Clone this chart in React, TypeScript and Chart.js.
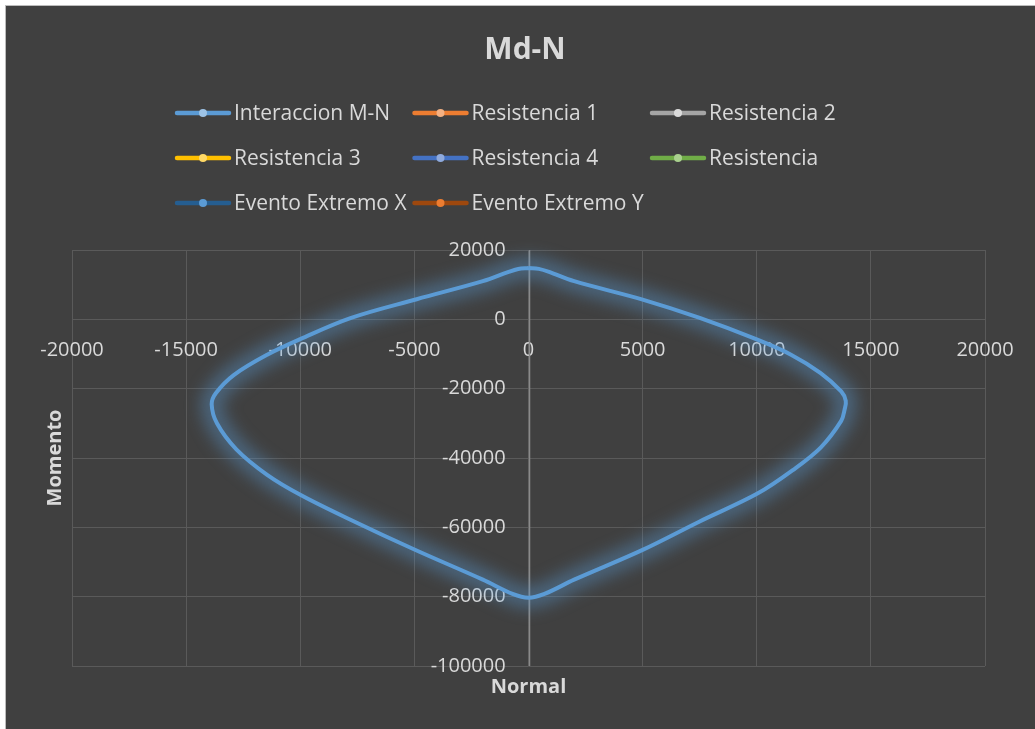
import React, { useEffect, useRef } from "react";
import { Chart, registerables } from "chart.js";

Chart.register(...registerables);

// ---- Data ----
const seriesLabels = [
  "Interaccion M-N",
  "Resistencia 1",
  "Resistencia 2",
  "Resistencia 3",
  "Resistencia 4",
  "Resistencia",
  "Evento Extremo X",
  "Evento Extremo Y",
];
const seriesColors = ["#5B9BD5", "#ED7D31", "#A5A5A5", "#FFC000", "#4472C4", "#70AD47", "#255E91", "#9E480E"];
const markerColors = ["#9DC3E6", "#F4B183", "#DBDBDB", "#FFD966", "#8FAADC", "#A9D18E", "#5B9BD5", "#ED7D31"];

// Interaction diagram: Normal (x) and Momento (y)
const normalN = [
  0, 450, 900, 2000, 5000, 7500, 10000, 11500, 12800, 13700, 13900, 13850, 13700, 12800, 11600, 10050, 7500, 5000,
  2000, 700, 0, -700, -2000, -5000, -7800, -10000, -11450, -12800, -13650, -13880, -13700, -12900, -11450, -10000,
  -7800, -4900, -2000, -900, -450, 0,
];
const momentoM = [
  14800, 14550, 13700, 11000, 5700, 400, -5800, -10200, -15500, -20800, -23500, -26000, -29300, -37000, -43400,
  -50200, -58300, -66500, -75100, -79200, -80300, -79200, -75100, -66400, -57800, -50600, -44850, -37500, -30000,
  -24500, -21300, -16000, -10200, -5700, 350, 5800, 11000, 13600, 14500, 14800,
];

const titleText = "Md-N";
const xTitle = "Normal";
const yTitle = "Momento";
const xMin = -20000;
const xMax = 20000;
const xStep = 5000;
const yMin = -100000;
const yMax = 20000;
const yStep = 20000;

const FONT = "'Open Sans', 'Liberation Sans', sans-serif";
const TEXT = "#d9d9d9";

const bgPlugin = {
  id: "bg",
  beforeDraw(chart: any) {
    const { ctx, width, height } = chart;
    ctx.save();
    ctx.fillStyle = "#404040";
    ctx.fillRect(0, 0, width, height);
    ctx.restore();
  },
};

// Soft glow under the interaction curve, following the library's own curve points
const glowPlugin = {
  id: "glow",
  beforeDatasetDraw(chart: any, args: any) {
    if (args.index !== 0) return;
    const ctx = chart.ctx;
    const pts = chart.getDatasetMeta(0).data;
    if (!pts || pts.length < 2) return;
    ctx.save();
    ctx.beginPath();
    ctx.moveTo(pts[0].x, pts[0].y);
    for (let i = 1; i < pts.length; i++) {
      const p = pts[i - 1];
      const c = pts[i];
      const c1x = p.cp2x ?? p.x;
      const c1y = p.cp2y ?? p.y;
      const c2x = c.cp1x ?? c.x;
      const c2y = c.cp1y ?? c.y;
      ctx.bezierCurveTo(c1x, c1y, c2x, c2y, c.x, c.y);
    }
    ctx.lineJoin = "round";
    ctx.lineCap = "round";
    ctx.filter = "blur(8px)";
    ctx.strokeStyle = "rgba(91,155,213,0.4)";
    ctx.lineWidth = 22;
    ctx.stroke();
    ctx.filter = "none";
    ctx.restore();
  },
};

// Lighter vertical axis line at Normal = 0
const axisLinePlugin = {
  id: "axisLine",
  beforeDatasetsDraw(chart: any) {
    const { ctx, chartArea, scales } = chart;
    const px = Math.round(scales.x.getPixelForValue(0)) + 0.5;
    ctx.save();
    ctx.strokeStyle = "#8a8a8a";
    ctx.lineWidth = 1.5;
    ctx.beginPath();
    ctx.moveTo(px, chartArea.top);
    ctx.lineTo(px, chartArea.bottom);
    ctx.stroke();
    ctx.restore();
  },
};

const decorPlugin = {
  id: "decor",
  afterDraw(chart: any) {
    const { ctx, chartArea } = chart;
    ctx.save();
    // Title
    ctx.fillStyle = TEXT;
    ctx.font = `bold 30px ${FONT}`;
    ctx.textAlign = "center";
    ctx.textBaseline = "middle";
    ctx.fillText(titleText, 519, 44);

    // Legend in a 3-column grid
    const startX = 169;
    const colW = 237.5;
    const rowY0 = 107;
    const rowH = 45;
    ctx.font = `21px ${FONT}`;
    ctx.textAlign = "left";
    chart.data.datasets.forEach((ds: any, i: number) => {
      const col = i % 3;
      const row = Math.floor(i / 3);
      const x = startX + col * colW;
      const y = rowY0 + row * rowH;
      ctx.strokeStyle = seriesColors[i];
      ctx.lineWidth = 4.5;
      ctx.lineCap = "round";
      ctx.beginPath();
      ctx.moveTo(x + 2, y);
      ctx.lineTo(x + 54, y);
      ctx.stroke();
      ctx.fillStyle = markerColors[i];
      ctx.beginPath();
      ctx.arc(x + 28, y, 4, 0, Math.PI * 2);
      ctx.fill();
      ctx.fillStyle = TEXT;
      ctx.fillText(ds.label, x + 59, y + 1);
    });

    // Axis titles
    ctx.font = `bold 20px ${FONT}`;
    ctx.textAlign = "center";
    ctx.fillText(xTitle, (chartArea.left + chartArea.right) / 2, chartArea.bottom + 21);
    ctx.translate(chartArea.left - 17, (chartArea.top + chartArea.bottom) / 2);
    ctx.rotate(-Math.PI / 2);
    ctx.fillText(yTitle, 0, 0);
    ctx.restore();
  },
};

export default function App() {
  const ref = useRef<HTMLCanvasElement | null>(null);

  useEffect(() => {
    if (!ref.current) return;
    const points = normalN.map((n, i) => ({ x: n, y: momentoM[i] }));
    const datasets = seriesLabels.map((label, i) => ({
      label,
      data: i === 0 ? points : [],
      borderColor: seriesColors[i],
      backgroundColor: markerColors[i],
      borderWidth: 4,
      pointRadius: 0,
      showLine: true,
      tension: 0.35,
      fill: false,
    }));
    const tickFont = { family: FONT, size: 20 };
    const chart = new Chart(ref.current, {
      type: "scatter",
      data: { datasets },
      options: {
        animation: false,
        responsive: false,
        devicePixelRatio: 1,
        layout: { padding: { left: 66, right: 51, top: 244, bottom: 64 } },
        plugins: {
          legend: { display: false },
          title: { display: false },
          tooltip: { enabled: false },
        },
        scales: {
          x: {
            type: "linear",
            position: { y: 0 },
            min: xMin,
            max: xMax,
            ticks: {
              stepSize: xStep,
              autoSkip: false,
              maxRotation: 0,
              color: TEXT,
              font: tickFont,
              padding: 19,
              callback: (v: any) => String(v),
            },
            grid: { color: "#5a5a5a", lineWidth: 1, drawTicks: false },
            border: { display: true, color: "#5a5a5a", width: 1 },
          },
          y: {
            type: "linear",
            // labels sit just left of the Normal = 0 line
            position: { x: -1000 },
            min: yMin,
            max: yMax,
            ticks: {
              stepSize: yStep,
              autoSkip: false,
              color: TEXT,
              font: tickFont,
              padding: 0,
              callback: (v: any) => String(v),
            },
            grid: { color: "#5a5a5a", lineWidth: 1, drawTicks: false },
            border: { display: false },
          },
        },
      },
      plugins: [bgPlugin, axisLinePlugin, glowPlugin, decorPlugin],
    } as any);
    return () => chart.destroy();
  }, []);

  return (
    <div
      style={{
        position: "fixed",
        left: 0,
        top: 0,
        width: 1035,
        height: 729,
        background: "#ffffff",
        overflow: "hidden",
      }}
    >
      <div
        style={{
          position: "absolute",
          left: 5,
          top: 5,
          borderTop: "1px solid #bcbcbc",
          borderLeft: "1px solid #bcbcbc",
          width: 1030,
          height: 724,
        }}
      >
        <canvas ref={ref} width={1030} height={724} style={{ display: "block" }} />
      </div>
    </div>
  );
}
